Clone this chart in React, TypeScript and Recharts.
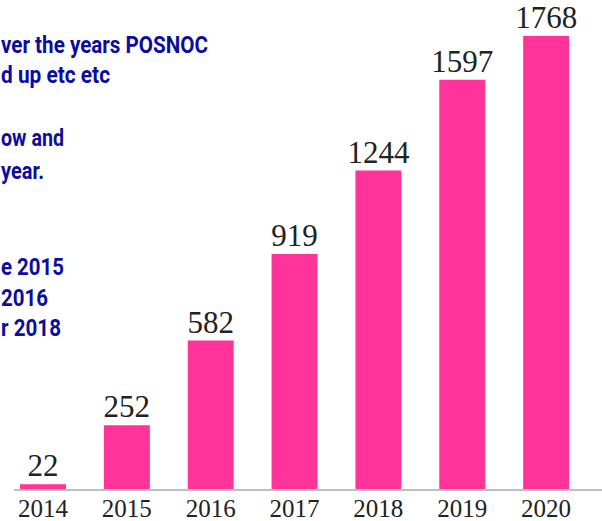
import React from 'react';
import { BarChart, Bar, XAxis, YAxis, LabelList } from 'recharts';

const years = ['2014', '2015', '2016', '2017', '2018', '2019', '2020'];
const counts = [22, 252, 582, 919, 1244, 1597, 1768];

// text block on the left, cut off by the slide edge in the original
const noteLines = [
  { text: 'ver the years POSNOC', w: 207, y: 45 },
  { text: 'd up etc etc', w: 109, y: 75 },
  { text: 'ow and', w: 63, y: 138 },
  { text: 'year.', w: 43, y: 171 },
  { text: 'e 2015', w: 63, y: 267 },
  { text: '2016', w: 47, y: 298 },
  { text: 'r 2018', w: 60, y: 328 },
];

const data = years.map((year, i) => ({ year, count: counts[i] }));

export default function App() {
  return (
    <div style={{ position: 'fixed', left: 0, top: 0, width: 602, height: 521, background: '#fff', overflow: 'hidden' }}>
      <svg width={602} height={521} style={{ position: 'absolute', left: 0, top: 0 }}>
        {noteLines.map((l) => (
          <text
            key={l.text}
            x={1}
            y={l.y + 8}
            textLength={l.w}
            lengthAdjust="spacingAndGlyphs"
            fill="#0c0ca0"
            fontFamily="Roboto, sans-serif"
            fontWeight="bold"
            fontSize={23.5}
          >
            {l.text}
          </text>
        ))}
      </svg>
      <BarChart width={602} height={521} data={data} margin={{ top: 0, right: 0, left: 14, bottom: 0 }}>
        <YAxis hide domain={[0, 1908]} />
        <XAxis
          dataKey="year"
          height={31}
          padding={{ left: -13, right: 14 }}
          axisLine={{ stroke: '#bfbfbf', strokeWidth: 2 }}
          tickLine={false}
          tickMargin={3}
          tick={{ fill: '#222', fontSize: 25, fontFamily: '"Liberation Serif", serif' }}
          interval={0}
        />
        <Bar dataKey="count" fill="#ff3399" barSize={46} isAnimationActive={false}>
          <LabelList
            dataKey="count"
            position="top"
            offset={8}
            style={{ fill: '#222', fontSize: 31, fontFamily: '"Liberation Serif", serif' }}
          />
        </Bar>
      </BarChart>
    </div>
  );
}
